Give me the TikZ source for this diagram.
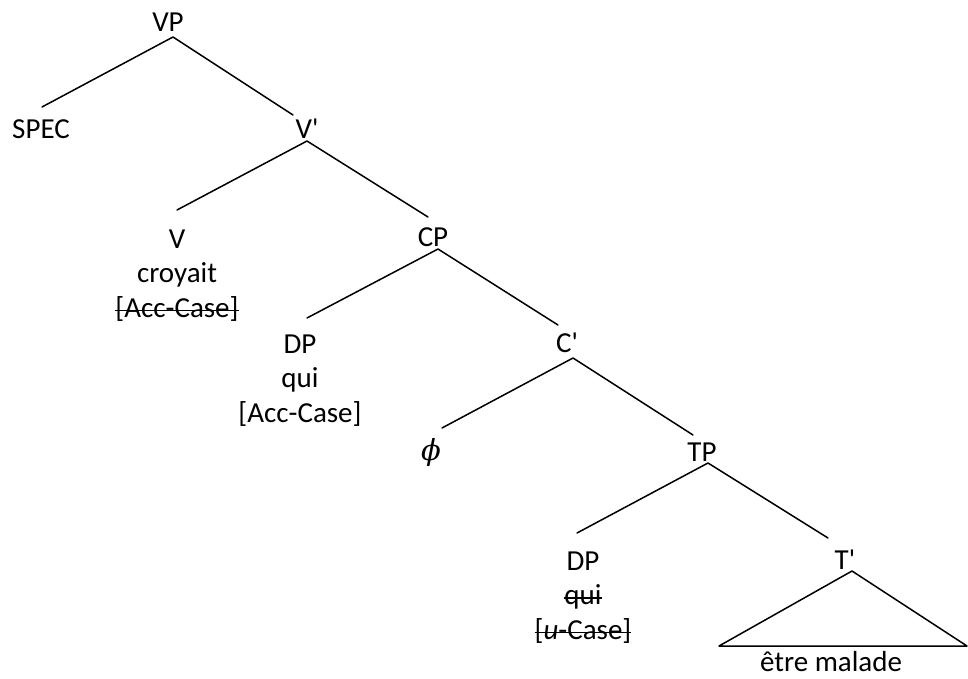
\documentclass[tikz,border=0pt]{standalone}
\usepackage{fontspec}
\setmainfont{Carlito}
\newfontfamily\phifont{DejaVu Serif}
\newcommand{\pr}{\textquotesingle}
\newcommand{\strike}[1]{\ooalign{#1\cr\leaders\hrule height .27em depth -.21em\hfill\cr}}
\begin{document}
\begin{tikzpicture}[x=1pt,y=-1pt,line join=round,line cap=round,line width=1.5pt,
	every node/.style={inner sep=0pt,font=\fontsize{29}{34.5}\selectfont},
	leaf/.style={align=center,anchor=north}]
	\useasboundingbox (0,0) rectangle (968,679);
	% labels
	\node (VP) at (168,22) {VP};
	\node (SPEC) at (41,129) {SPEC};
	\node (Vbar) at (307,129) {V\pr};
	\node[leaf] (V) at (177,229) {V\\croyait\\\strike{[Acc-Case]}};
	\node (CP) at (433,237) {CP};
	\node[leaf] (DPa) at (300,334) {DP\\qui\\{[}Acc-Case{]}};
	\node (Cbar) at (567,343) {C\pr};
	\node (phi) at (431,452) {\phifont\itshape ϕ};
	\node (TP) at (702,452) {TP};
	\node[leaf] (DPb) at (583,551) {DP\\\strike{qui}\\\strike{[\textit{u}-Case]}};
	\node (Tbar) at (845,560) {T\pr};
	\node (malade) at (831,662) {être malade};
	% branch ends
	\path (173,37) coordinate (vp)
		(42,107) coordinate (vp-l)
		(293,115) coordinate (vp-r)
		(307,141) coordinate (vb)
		(177,210) coordinate (vb-l)
		(428,217) coordinate (vb-r)
		(438,249) coordinate (cp)
		(307,318) coordinate (cp-l)
		(558,325) coordinate (cp-r)
		(573,358) coordinate (cb)
		(442,428) coordinate (cb-l)
		(693,435) coordinate (cb-r)
		(708,463) coordinate (tp)
		(577,533) coordinate (tp-l)
		(828,538) coordinate (tp-r)
		(852,571) coordinate (tb)
		(719,646) coordinate (tb-l)
		(967,646) coordinate (tb-r)
		;
	\foreach \p in {vp,vb,cp,cb,tp}
	\draw (\p-l)--(\p)--(\p-r);
	\draw (tb-l)--(tb)--(tb-r)--cycle;
\end{tikzpicture}
\end{document}
